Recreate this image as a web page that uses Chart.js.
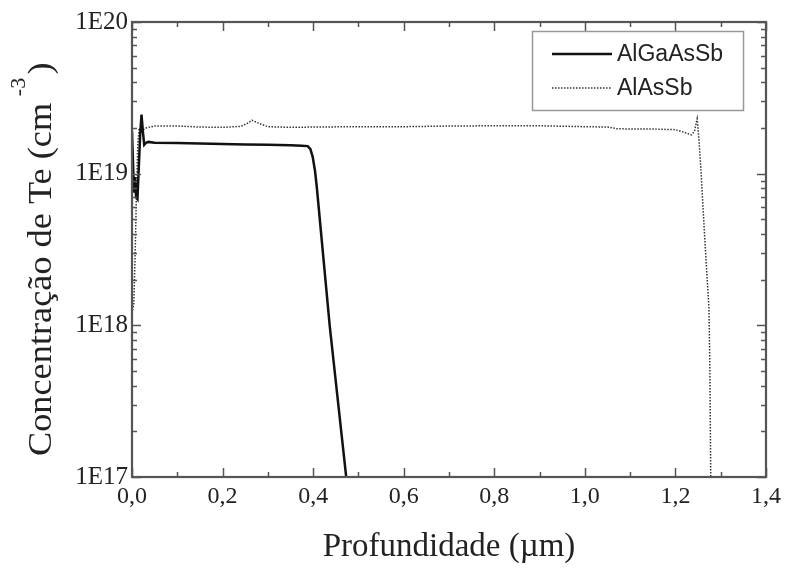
<!DOCTYPE html>
<html lang="pt">
<head>
  <meta charset="UTF-8" />
  <title>Concentração de Te</title>
  <script src="https://cdn.jsdelivr.net/npm/chart.js"></script>
  <style>
    html, body {
      margin: 0;
      padding: 0;
      background: #fff;
    }
    #wrap {
      width: 786px;
      height: 568px;
    }
  </style>
</head>
<body>
  <div id="wrap"><canvas id="chart" width="786" height="568"></canvas></div>

  <script>
    // series
    const seriesNames = ["AlGaAsSb", "AlAsSb"];

    const algaDepth = [0.000, 0.003, 0.005, 0.007, 0.009, 0.012, 0.015, 0.018, 0.021, 0.024, 0.027,
      0.031, 0.036, 0.05, 0.1, 0.15, 0.2, 0.25, 0.3, 0.35, 0.375, 0.388, 0.394, 0.399, 0.404, 0.408,
      0.4365, 0.473, 0.48];
    const algaConc = [1.9e19, 1.0e19, 7.5e18, 9.5e18, 7e18, 6.8e18, 1.1e19, 1.8e19, 2.45e19, 1.9e19, 1.55e19,
      1.6e19, 1.62e19, 1.6e19, 1.59e19, 1.58e19, 1.57e19, 1.56e19, 1.55e19, 1.54e19, 1.53e19, 1.52e19, 1.45e19, 1.29e19, 1.05e19, 8.2e18,
      1.0e18, 1.0e17, 7e16];

    const alasDepth = [0.000, 0.004, 0.007, 0.010, 0.013, 0.016, 0.020, 0.025, 0.03, 0.05, 0.1, 0.15, 0.2,
      0.24, 0.255, 0.265, 0.28, 0.3, 0.35, 0.4, 0.5, 0.6, 0.7, 0.8, 0.9, 1.0, 1.05, 1.07, 1.1, 1.15, 1.2,
      1.225, 1.235, 1.242, 1.248, 1.252, 1.256, 1.264, 1.274, 1.276, 1.278, 1.282];
    const alasConc = [1.2e18, 1.4e18, 3e18, 8e18, 1.6e19, 2.0e19, 1.85e19, 1.95e19, 2.0e19, 2.06e19, 2.06e19, 2.03e19, 2.02e19,
      2.05e19, 2.15e19, 2.25e19, 2.15e19, 2.04e19, 2.02e19, 2.03e19, 2.04e19, 2.04e19, 2.06e19, 2.07e19, 2.07e19, 2.04e19, 2.03e19, 1.98e19, 1.97e19, 1.97e19, 1.95e19,
      1.85e19, 1.8e19, 1.9e19, 2.3e19, 1.66e19, 1.1e19, 4.1e18, 1.3e18, 5.4e17, 1.0e17, 6e16];

    const xTickValues = [0, 0.2, 0.4, 0.6, 0.8, 1.0, 1.2, 1.4];
    const xTickLabels = ["0,0", "0,2", "0,4", "0,6", "0,8", "1,0", "1,2", "1,4"];
    const yTickValues = [1e17, 1e18, 1e19, 1e20];
    const yTickLabels = ["1E17", "1E18", "1E19", "1E20"];

    const xTitle = "Profundidade (\u00b5m)";
    const yTitle = "Concentração de Te (cm";
    const yTitleSup = "-3";

    const serif = '"Liberation Serif", "Times New Roman", serif';
    const sans = '"Liberation Sans", Arial, sans-serif';
    const ink = "#222";

    function toPoints(xs, ys) {
      return xs.map((x, i) => ({ x: x, y: ys[i] }));
    }

    function xLabel(v) {
      const i = xTickValues.findIndex(t => Math.abs(t - v) < 1e-9);
      return i < 0 ? "" : xTickLabels[i];
    }
    function yLabel(v) {
      const i = yTickValues.findIndex(t => Math.abs(t - v) / t < 1e-6);
      return i < 0 ? "" : yTickLabels[i];
    }

    // frame + inward ticks on all four sides, titles, boxed legend
    const decor = {
      id: "decor",
      afterDatasetsDraw(chart) {
        const ctx = chart.ctx;
        const a = chart.chartArea;
        const xs = chart.scales.x, ys = chart.scales.y;
        ctx.save();
        ctx.strokeStyle = "#555";
        ctx.lineWidth = 1.5;
        xs.ticks.forEach(t => {
          const px = Math.round(xs.getPixelForValue(t.value)) + 0.5;
          const len = xLabel(t.value) ? 9 : 5;
          ctx.beginPath();
          ctx.moveTo(px, a.bottom); ctx.lineTo(px, a.bottom - len);
          ctx.moveTo(px, a.top); ctx.lineTo(px, a.top + len);
          ctx.stroke();
        });
        ys.ticks.forEach(t => {
          const py = Math.round(ys.getPixelForValue(t.value)) + 0.5;
          const len = yLabel(t.value) ? 9 : 5;
          ctx.beginPath();
          ctx.moveTo(a.left, py); ctx.lineTo(a.left + len, py);
          ctx.moveTo(a.right, py); ctx.lineTo(a.right - len, py);
          ctx.stroke();
        });
        ctx.lineWidth = 2.2;
        ctx.strokeRect(a.left, a.top, a.right - a.left, a.bottom - a.top);
        ctx.restore();
      },
      afterDraw(chart) {
        const ctx = chart.ctx;
        const a = chart.chartArea;
        const ds = chart.data.datasets;
        ctx.save();
        ctx.fillStyle = ink;

        // x title
        ctx.font = "33px " + serif;
        ctx.textAlign = "center";
        ctx.textBaseline = "alphabetic";
        ctx.fillText(xTitle, (a.left + a.right) / 2, 556);

        // y title with superscript, rotated
        ctx.save();
        ctx.translate(51, 456);
        ctx.rotate(-Math.PI / 2);
        ctx.scale(1.1, 1);
        ctx.textAlign = "left";
        ctx.font = "33px " + serif;
        ctx.fillText(yTitle, 0, 0);
        const w = ctx.measureText(yTitle).width + 6;
        ctx.font = "20px " + serif;
        ctx.fillText(yTitleSup, w, -26);
        const w2 = ctx.measureText(yTitleSup).width + 3;
        ctx.font = "33px " + serif;
        ctx.fillText(")", w + w2, 0);
        ctx.restore();

        // legend
        ctx.strokeStyle = "#999";
        ctx.lineWidth = 1.5;
        ctx.strokeRect(532.5, 31.5, 211, 79);
        const rows = [54, 88];
        ctx.font = "23px " + sans;
        ctx.textAlign = "left";
        ctx.textBaseline = "middle";
        rows.forEach((y, i) => {
          ctx.save();
          ctx.strokeStyle = ds[i].borderColor;
          ctx.lineWidth = ds[i].borderWidth;
          ctx.setLineDash(ds[i].borderDash || []);
          ctx.beginPath();
          ctx.moveTo(552, y); ctx.lineTo(612, y);
          ctx.stroke();
          ctx.restore();
          ctx.fillText(seriesNames[i], 617, y + 1);
        });
        ctx.restore();
      }
    };

    new Chart(document.getElementById("chart"), {
      type: "line",
      data: {
        datasets: [
          {
            label: seriesNames[0],
            data: toPoints(algaDepth, algaConc),
            borderColor: "#111",
            borderWidth: 2.5,
            pointRadius: 0,
            tension: 0
          },
          {
            label: seriesNames[1],
            data: toPoints(alasDepth, alasConc),
            borderColor: "#333",
            borderWidth: 1.5,
            borderDash: [1.5, 1.5],
            pointRadius: 0,
            tension: 0
          }
        ]
      },
      options: {
        responsive: false,
        animation: false,
        devicePixelRatio: 1,
        layout: { padding: { top: 22, right: 19, left: 0, bottom: 0 } },
        plugins: {
          legend: { display: false },
          tooltip: { enabled: false }
        },
        scales: {
          x: {
            type: "linear",
            min: 0,
            max: 1.4,
            grid: { display: false, drawTicks: false },
            border: { display: false },
            afterBuildTicks: s => {
              const t = [];
              for (let i = 0; i <= 14; i++) t.push({ value: i / 10 });
              s.ticks = t;
            },
            afterFit: s => { s.height = 91; },
            ticks: {
              autoSkip: false,
              maxRotation: 0,
              padding: 5,
              color: ink,
              font: { family: serif, size: 24 },
              callback: v => xLabel(v)
            }
          },
          y: {
            type: "logarithmic",
            min: 1e17,
            max: 1e20,
            grid: { display: false, drawTicks: false },
            border: { display: false },
            afterBuildTicks: s => {
              const t = [];
              for (let d = 17; d < 20; d++) {
                for (let m = 1; m <= 9; m++) t.push({ value: m * Math.pow(10, d) });
              }
              t.push({ value: 1e20 });
              s.ticks = t;
            },
            afterFit: s => { s.width = 132; },
            ticks: {
              autoSkip: false,
              padding: 4,
              color: ink,
              font: { family: serif, size: 25 },
              callback: v => yLabel(v)
            }
          }
        }
      },
      plugins: [decor]
    });
  </script>
</body>
</html>
